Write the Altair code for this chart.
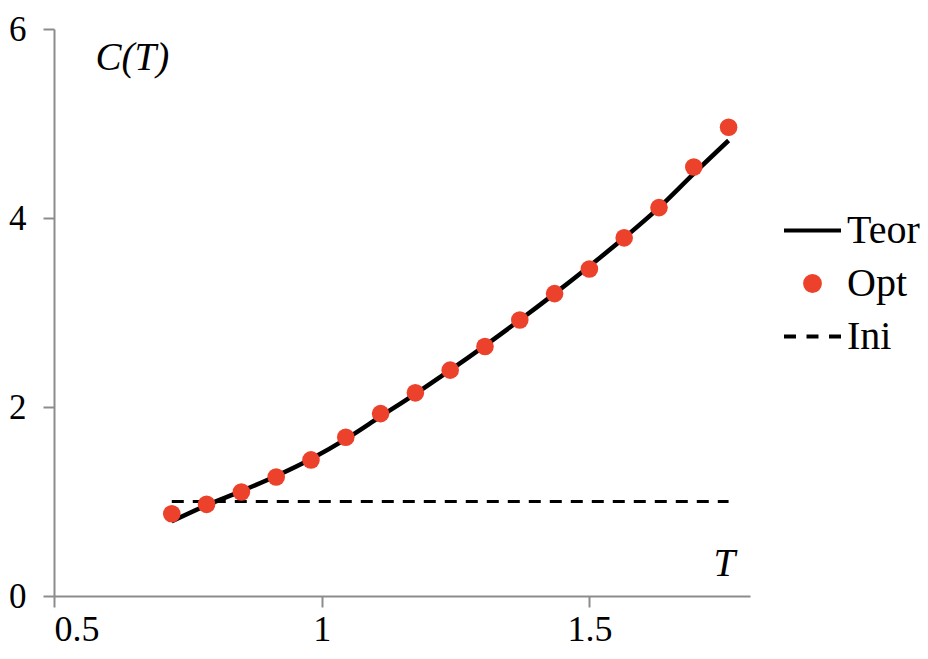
import altair as alt
import pandas as pd

T = [0.720, 0.785, 0.850, 0.915, 0.980, 1.045, 1.110, 1.175, 1.240,
     1.305, 1.370, 1.435, 1.500, 1.565, 1.630, 1.695, 1.760]
opt = [0.87, 0.97, 1.10, 1.26, 1.44, 1.68, 1.93, 2.15, 2.39,
       2.64, 2.92, 3.20, 3.46, 3.79, 4.11, 4.54, 4.96]
teor = [0.79, 0.96, 1.11, 1.27, 1.45, 1.66, 1.90, 2.14, 2.39,
        2.65, 2.92, 3.20, 3.49, 3.79, 4.11, 4.47, 4.82]
ini_T = [0.72, 1.76]
ini_C = [1.0, 1.0]
series = ["Teor", "Opt", "Ini"]

RED = "#EC412B"
SERIF = "Liberation Serif, Times New Roman, serif"

df_teor = pd.DataFrame({"T": T, "C": teor})
df_opt = pd.DataFrame({"T": T, "C": opt})
df_ini = pd.DataFrame({"T": ini_T, "C": ini_C})
df_leg = pd.DataFrame({"T": [None] * 3, "C": [None] * 3, "s": series})

xscale = alt.Scale(domain=[0.5, 1.8], nice=False, zero=False)
yscale = alt.Scale(domain=[0, 6], nice=False)

xenc = alt.X("T:Q", scale=xscale, axis=alt.Axis(
    values=[0.5, 1, 1.5], format="~g", title="T",
    titleFont=SERIF, titleFontStyle="italic", titleFontWeight="normal",
    titleFontSize=39, titleColor="black", titleAlign="left",
    titleBaseline="alphabetic", titleX=659, titleY=-21, titleAngle=0,
    labelPadding=5, labelFontSize=36))
yenc = alt.Y("C:Q", scale=yscale, axis=alt.Axis(
    values=[0, 2, 4, 6], format="~g", title="C(T)",
    titleFont=SERIF, titleFontStyle="italic", titleFontWeight="normal",
    titleFontSize=39, titleColor="black", titleAlign="left",
    titleBaseline="alphabetic", titleX=41, titleY=40, titleAngle=0,
    labelPadding=17, labelFontSize=35))

ini = alt.Chart(df_ini).mark_line(color="black", strokeWidth=3, strokeDash=[12, 9]).encode(x=xenc, y=yenc)
teor_l = alt.Chart(df_teor).mark_line(color="black", strokeWidth=4.5, interpolate="monotone").encode(x=xenc, y=yenc)
opt_p = alt.Chart(df_opt).mark_point(filled=True, color=RED, size=310, opacity=1).encode(x=xenc, y=yenc)

line_path = "M-1,0H1"
circ = "M-0.26,0A0.26,0.26 0 1,0 0.26,0A0.26,0.26 0 1,0 -0.26,0Z"
dash_path = "M-1,0H-0.58M-0.21,0H0.21M0.58,0H1"

leg = alt.Legend(title=None, orient="none", legendX=728, legendY=171,
                 labelFont=SERIF, labelFontSize=40, labelColor="black",
                 labelOffset=4, rowPadding=2, padding=0,
                 symbolSize=3249, symbolStrokeWidth=4)

legend_layer = alt.Chart(df_leg).mark_point(opacity=1).encode(
    x=alt.X("T:Q", scale=xscale),
    y=alt.Y("C:Q", scale=yscale),
    shape=alt.Shape("s:N", scale=alt.Scale(domain=series, range=[line_path, circ, dash_path]), legend=leg),
    fill=alt.Fill("s:N", scale=alt.Scale(domain=series, range=["transparent", RED, "transparent"]), legend=leg),
    stroke=alt.Stroke("s:N", scale=alt.Scale(domain=series, range=["black", RED, "black"]), legend=leg),
)

chart = alt.layer(ini, teor_l, opt_p, legend_layer).properties(
    width=696, height=567,
    autosize=alt.AutoSizeParams(type="none"),
    padding={"left": 46, "top": 21, "right": 170, "bottom": 52},
).configure_view(stroke=None).configure_axis(
    grid=False, domainColor="#8c8c8c", domainWidth=2, tickColor="#8c8c8c",
    tickWidth=2, tickSize=11, labelFont=SERIF, labelFontSize=37,
    labelColor="black",
)

chart.save("out.html", embed_options={"renderer": "svg", "actions": False})
